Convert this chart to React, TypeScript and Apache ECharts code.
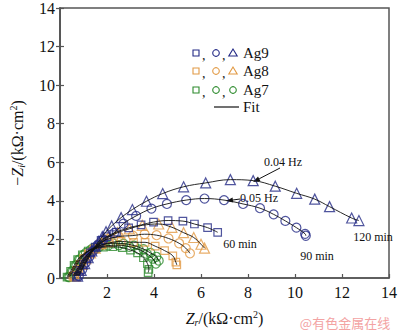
import React, { useEffect, useRef } from "react";
import * as echarts from "echarts";

const xTicks = [0, 2, 4, 6, 8, 10, 12, 14];
const yTicks = [0, 2, 4, 6, 8, 10, 12, 14];

const ag9_60 = [[0.7,0.1],[0.85,0.4],[1.0,0.7],[1.15,1.0],[1.3,1.3],[1.5,1.6],[1.75,1.95],[2.0,2.15],[2.4,2.38],[2.92,2.6],[3.45,2.75],[3.98,2.9],[4.6,2.98],[5.23,2.95],[5.72,2.8],[6.28,2.61],[6.71,2.37]];
const ag9_90 = [[0.8,0.1],[0.95,0.45],[1.1,0.8],[1.25,1.1],[1.4,1.4],[1.6,1.7],[1.85,2.0],[2.3,2.33],[2.7,2.82],[3.24,3.22],[3.89,3.6],[4.55,3.84],[5.37,4.04],[6.15,4.12],[6.98,4.04],[7.79,3.84],[8.51,3.62],[9.09,3.3],[9.59,2.96],[10.06,2.61],[10.43,2.29],[10.46,2.19]];
const ag9_120 = [[0.75,0.1],[0.9,0.4],[1.05,0.75],[1.2,1.05],[1.35,1.4],[1.5,1.65],[1.65,1.9],[1.8,2.15],[1.96,2.4],[2.2,2.7],[2.6,3.13],[3.08,3.55],[3.68,3.98],[4.37,4.38],[5.26,4.73],[6.2,4.93],[7.25,5.1],[8.22,5.05],[9.16,4.76],[10.07,4.39],[10.84,4.09],[11.47,3.7],[12.41,3.11],[12.72,2.98]];

const ag8_60 = [[0.55,0.1],[0.7,0.4],[0.85,0.7],[1.0,1.0],[1.2,1.25],[1.45,1.5],[1.75,1.7],[2.1,1.82],[2.6,1.9],[3.13,1.85],[3.62,1.85],[4.05,1.65],[4.45,1.42],[4.8,1.15],[4.93,0.82],[4.97,0.68]];
const ag8_90 = [[0.6,0.1],[0.75,0.4],[0.9,0.7],[1.05,1.0],[1.25,1.3],[1.45,1.55],[1.7,1.8],[2.0,2.0],[2.5,2.15],[3.1,2.2],[3.6,2.27],[4.11,2.22],[4.62,2.05],[5.07,1.8],[5.35,1.55],[5.53,1.28]];
const ag8_120 = [[0.65,0.1],[0.8,0.4],[0.95,0.7],[1.1,1.0],[1.3,1.3],[1.5,1.55],[1.75,1.8],[2.05,2.1],[2.45,2.35],[2.95,2.55],[3.5,2.73],[4.2,2.8],[4.76,2.63],[5.26,2.35],[5.69,2.1],[6.0,1.75],[6.15,1.55]];

const ag7_60 = [[0.3,0.05],[0.45,0.35],[0.6,0.65],[0.75,0.95],[0.95,1.2],[1.2,1.4],[1.5,1.52],[1.85,1.6],[2.25,1.62],[2.65,1.57],[3.0,1.45],[3.3,1.3],[3.55,1.05],[3.72,0.75],[3.78,0.45],[3.75,0.28]];
const ag7_90 = [[0.35,0.05],[0.5,0.35],[0.65,0.65],[0.8,0.95],[1.0,1.2],[1.3,1.45],[1.65,1.6],[2.05,1.68],[2.5,1.7],[2.95,1.62],[3.35,1.48],[3.7,1.25],[3.95,1.0],[4.08,0.75]];
const ag7_120 = [[0.4,0.05],[0.55,0.35],[0.7,0.65],[0.85,0.95],[1.1,1.3],[1.4,1.55],[1.8,1.72],[2.25,1.8],[2.7,1.78],[3.15,1.68],[3.55,1.5],[3.85,1.3],[4.1,1.1],[4.2,0.9]];

const BLUE = "#242a86";
const ORANGE = "#e29a45";
const GREEN = "#2c8a2c";
const FONT = "'Liberation Serif', 'Times New Roman', serif";

const groups = [
  { name: "Ag9", color: BLUE, sets: [ag9_60, ag9_90, ag9_120], symbols: ["rect", "circle", "triangle"] },
  { name: "Ag8", color: ORANGE, sets: [ag8_60, ag8_90, ag8_120], symbols: ["rect", "circle", "triangle"] },
  { name: "Ag7", color: GREEN, sets: [ag7_60, ag7_90, ag7_120], symbols: ["rect", "circle", "circle"] },
];
const symSize: Record<string, number> = { rect: 7.5, circle: 9, triangle: 10 };

export default function App() {
  const ref = useRef<HTMLDivElement>(null);
  useEffect(() => {
    if (!ref.current) return;
    const chart = echarts.init(ref.current, null, { renderer: "svg" });
    const series: any[] = [];
    groups.slice().reverse().forEach((g) => {
      g.sets.forEach((d, i) => {
        series.push({
          type: "scatter",
          data: d,
          symbol: g.symbols[i],
          symbolSize: symSize[g.symbols[i]],
          itemStyle: { color: "transparent", borderColor: g.color, borderWidth: 1.2 },
          z: 2,
        });
      });
    });
    groups.forEach((g) => {
      g.sets.forEach((d) => {
        series.push({
          type: "line",
          data: d,
          smooth: 0.4,
          showSymbol: false,
          lineStyle: { color: "#111", width: 0.9 },
          z: 3,
        });
      });
    });

    const legendGraphics: any[] = [];
    const rowsY = [53, 71, 90];
    const symX = [196, 216, 233];
    groups.forEach((g, r) => {
      const y = rowsY[r];
      g.symbols.forEach((s, k) => {
        const x = symX[k];
        const st = { fill: "none", stroke: g.color, lineWidth: 1.1 };
        if (s === "rect") legendGraphics.push({ type: "rect", shape: { x: x - 3, y: y - 3, width: 6, height: 6 }, style: st });
        else if (s === "circle") legendGraphics.push({ type: "circle", shape: { cx: x, cy: y, r: 3.3 }, style: st });
        else legendGraphics.push({ type: "polygon", shape: { points: [[x, y - 4], [x - 4.2, y + 3], [x + 4.2, y + 3]] }, style: st });
        if (k < 2) legendGraphics.push({ type: "text", x: x + 6, y: y - 5, style: { text: ",", font: `14px ${FONT}`, fill: "#222" } });
      });
      legendGraphics.push({ type: "text", x: 243, y: y, style: { text: g.name, font: `15px ${FONT}`, fill: "#111", verticalAlign: "middle" } });
    });
    legendGraphics.push({ type: "line", shape: { x1: 214, y1: 107, x2: 239, y2: 107 }, style: { stroke: "#111", lineWidth: 1.2 } });
    legendGraphics.push({ type: "text", x: 243, y: 107, style: { text: "Fit", font: `15px ${FONT}`, fill: "#111", verticalAlign: "middle" } });

    const annot = (text: string, x: number, y: number, align = "center") => ({
      type: "text", x, y, style: { text, font: `12px ${FONT}`, fill: "#111", align, verticalAlign: "middle" },
    });
    const arrow = (x1: number, y1: number, x2: number, y2: number) => {
      const a = Math.atan2(y2 - y1, x2 - x1);
      const L = 7, W = 2.6;
      const bx = x2 - L * Math.cos(a), by = y2 - L * Math.sin(a);
      return [
        { type: "line", shape: { x1, y1, x2: bx, y2: by }, style: { stroke: "#111", lineWidth: 1 } },
        { type: "polygon", shape: { points: [[x2, y2], [bx - W * Math.sin(a), by + W * Math.cos(a)], [bx + W * Math.sin(a), by - W * Math.cos(a)]] }, style: { fill: "#111" } },
      ];
    };

    const richName = {
      i: { fontFamily: FONT, fontSize: 16, fontStyle: "italic", color: "#111" },
      sub: { fontFamily: FONT, fontSize: 10, fontStyle: "italic", verticalAlign: "bottom", padding: [8, 0, 0, 0], color: "#111" },
      sup: { fontFamily: FONT, fontSize: 10, verticalAlign: "top", padding: [0, 0, 8, 0], color: "#111" },
    };

    chart.setOption({
      animation: false,
      grid: { left: 48, right: 5, top: 6, bottom: 47.5, show: true, borderColor: "#555", borderWidth: 1.5, backgroundColor: "transparent" },
      xAxis: [{
        type: "value", min: xTicks[0], max: xTicks[xTicks.length - 1], interval: 2,
        axisLine: { show: true, onZero: false, lineStyle: { color: "#555", width: 1.5 } },
        axisTick: { show: true, inside: true, length: 4, lineStyle: { color: "#555", width: 1.2 } },
        axisLabel: { show: true, fontFamily: FONT, fontSize: 16, color: "#111", margin: 6, showMinLabel: false },
        splitLine: { show: false },
        name: "{i|Z}{sub|r}/(kΩ·cm{sup|2})", nameLocation: "middle", nameGap: 31,
        nameTextStyle: { fontFamily: FONT, fontSize: 16, color: "#111", rich: richName },
      }],
      yAxis: [{
        type: "value", min: yTicks[0], max: yTicks[yTicks.length - 1], interval: 2,
        axisLine: { show: true, onZero: false, lineStyle: { color: "#555", width: 1.5 } },
        axisTick: { show: true, inside: true, length: 4, lineStyle: { color: "#555", width: 1.2 } },
        axisLabel: { show: true, fontFamily: FONT, fontSize: 16, color: "#111", margin: 5 },
        splitLine: { show: false },
        name: "−{i|Z}{sub|i}/(kΩ·cm{sup|2})", nameLocation: "middle", nameGap: 34, nameRotate: 90,
        nameTextStyle: { fontFamily: FONT, fontSize: 16, color: "#111", rich: richName },
      }, {
        type: "value", position: "right", min: yTicks[0], max: yTicks[yTicks.length - 1], interval: 2,
        axisLine: { show: true, lineStyle: { color: "#555", width: 1.5 } },
        axisTick: { show: true, inside: true, length: 4, lineStyle: { color: "#555", width: 1.2 } },
        axisLabel: { show: false }, splitLine: { show: false },
      }],
      series,
      graphic: [
        ...legendGraphics,
        annot("0.04 Hz", 283, 162),
        ...arrow(280, 168, 253, 182),
        annot("0.05 Hz", 259, 198),
        ...arrow(240, 199, 226, 201),
        annot("60 min", 240, 244),
        annot("90 min", 317, 256),
        annot("120 min", 373, 237),
        { type: "text", x: 345, y: 322, style: { text: "@有色金属在线", font: `13px "Noto Sans CJK SC"`, fill: "#f3a3a3", align: "center", verticalAlign: "middle" } },
      ],
    });
    return () => chart.dispose();
  }, []);
  return <div ref={ref} style={{ width: 400, height: 332, position: "absolute", left: 0, top: 0 }} />;
}
